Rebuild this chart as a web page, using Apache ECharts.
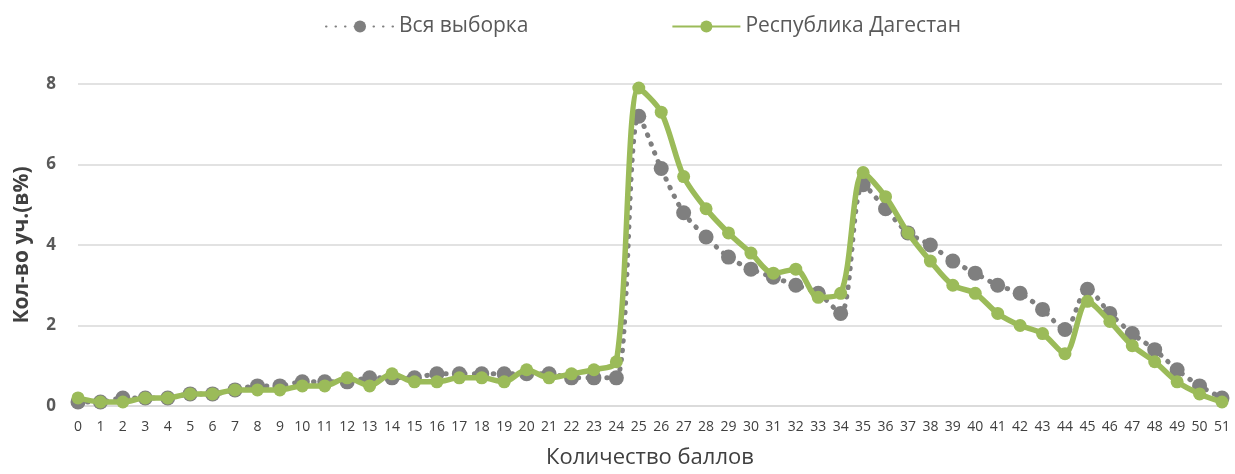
<!DOCTYPE html>
<html>
<head>
<meta charset="utf-8">
<script src="https://cdn.jsdelivr.net/npm/echarts@6/dist/echarts.min.js"></script>
<style>
  html, body { margin: 0; padding: 0; background: #fff; }
  #chart { width: 1235px; height: 474px; }
</style>
</head>
<body>
<div id="chart"></div>
<script>
// score categories 0..51
const scores = ['0','1','2','3','4','5','6','7','8','9','10','11','12','13','14','15','16','17','18','19','20',
  '21','22','23','24','25','26','27','28','29','30','31','32','33','34','35','36','37','38','39','40',
  '41','42','43','44','45','46','47','48','49','50','51'];

// share of participants, % (whole sample)
const allSample = [0.1, 0.1, 0.2, 0.2, 0.2, 0.3, 0.3, 0.4, 0.5, 0.5, 0.6,
  0.6, 0.6, 0.7, 0.7, 0.7, 0.8, 0.8, 0.8, 0.8, 0.8,
  0.8, 0.7, 0.7, 0.7, 7.2, 5.9, 4.8, 4.2, 3.7, 3.4,
  3.2, 3.0, 2.8, 2.3, 5.5, 4.9, 4.3, 4.0, 3.6, 3.3,
  3.0, 2.8, 2.4, 1.9, 2.9, 2.3, 1.8, 1.4, 0.9, 0.5, 0.2];

// share of participants, % (Dagestan)
const dagestan = [0.2, 0.1, 0.1, 0.2, 0.2, 0.3, 0.3, 0.4, 0.4, 0.4, 0.5,
  0.5, 0.7, 0.5, 0.8, 0.6, 0.6, 0.7, 0.7, 0.6, 0.9,
  0.7, 0.8, 0.9, 1.1, 7.9, 7.3, 5.7, 4.9, 4.3, 3.8,
  3.3, 3.4, 2.7, 2.8, 5.8, 5.2, 4.3, 3.6, 3.0, 2.8,
  2.3, 2.0, 1.8, 1.3, 2.6, 2.1, 1.5, 1.1, 0.6, 0.3, 0.1];

// grade thresholds marked with orange lines
const thresholds = ['25', '35', '45'];

const chart = echarts.init(document.getElementById('chart'));
const font = 'Open Sans';

const option = {
  animation: false,
  textStyle: { fontFamily: font },
  legend: {
    top: 11,
    left: 320,
    itemWidth: 68,
    itemHeight: 15,
    itemGap: 143,
    textStyle: { fontSize: 21, color: '#595959', fontFamily: font },
    data: ['Вся выборка', 'Республика Дагестан']
  },
  grid: { left: 78, right: 13, top: 84, bottom: 66 },
  xAxis: {
    type: 'category',
    data: scores,
    boundaryGap: false,
    name: 'Количество баллов',
    nameLocation: 'middle',
    nameGap: 41,
    nameTextStyle: { fontSize: 22, color: '#404040', fontFamily: font },
    axisLine: { lineStyle: { color: '#d9d9d9', width: 1.5 } },
    axisTick: { show: false },
    axisLabel: { interval: 0, fontSize: 14, color: '#404040', margin: 14, fontFamily: font }
  },
  yAxis: {
    type: 'value',
    min: 0,
    max: 8,
    interval: 2,
    name: 'Кол-во уч.(в%)',
    nameLocation: 'middle',
    nameGap: 45,
    nameTextStyle: { fontSize: 21, fontWeight: 'bold', color: '#404040', fontFamily: font },
    axisLabel: { fontSize: 17, fontWeight: 'bold', color: '#595959', margin: 22, fontFamily: font },
    splitLine: { lineStyle: { color: '#d9d9d9', width: 1.5 } }
  },
  series: [
    {
      name: 'Вся выборка',
      type: 'line',
      data: allSample,
      smooth: 0.3,
      symbol: 'circle',
      symbolSize: 15,
      itemStyle: { color: '#7f7f7f' },
      lineStyle: { color: '#7f7f7f', width: 5, type: [0.5, 9], cap: 'round' },
      z: 2,
      markLine: {
        silent: true,
        symbol: 'none',
        label: { show: false },
        lineStyle: { color: '#ed7d31', width: 2, type: 'solid' },
        data: thresholds.map(t => [{ coord: [t, 8.13] }, { coord: [t, 0] }])
      }
    },
    {
      name: 'Республика Дагестан',
      type: 'line',
      data: dagestan,
      smooth: 0.3,
      symbol: 'circle',
      symbolSize: 13,
      itemStyle: { color: '#9bbb59' },
      lineStyle: { color: '#9bbb59', width: 5.5 },
      z: 3
    }
  ]
};

chart.setOption(option);
</script>
</body>
</html>
